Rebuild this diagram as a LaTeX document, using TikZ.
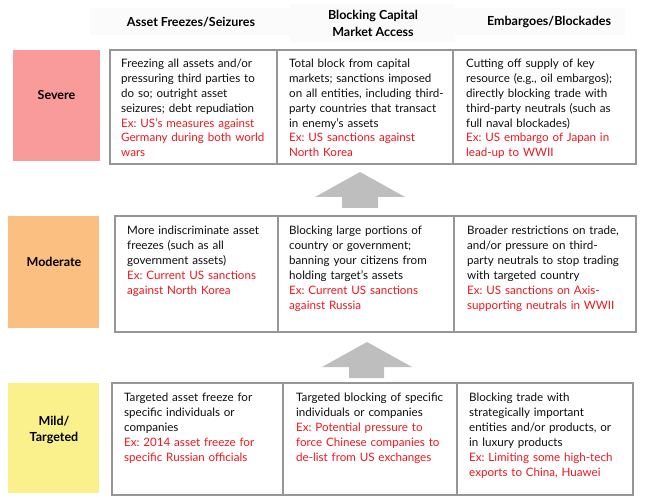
\documentclass[tikz,border=0pt]{standalone}
\usepackage{fontspec}
\setmainfont{Lato}
\frenchspacing
\definecolor{exred}{RGB}{240,22,30}
\definecolor{cellgray}{RGB}{150,150,150}
\definecolor{arrowgray}{RGB}{190,190,190}
\definecolor{sevcol}{RGB}{250,155,155}
\definecolor{modcol}{RGB}{252,191,130}
\definecolor{mildcol}{RGB}{250,240,140}
\definecolor{hdrbg}{RGB}{251,251,251}
\begin{document}
\begin{tikzpicture}[x=1pt,y=-1pt,
  cell/.style={draw=cellgray,line width=1.3pt},
  levelbox/.style={font=\fontsize{12.5}{15.5}\selectfont\bfseries,align=center},
  hdr/.style={font=\fontsize{12.5}{17}\selectfont\bfseries,align=center},
  ctext/.style={anchor=base west,inner sep=0pt,align=left,text width=170pt,
    font=\fontsize{11.6}{14.9}\selectfont\frenchspacing,text=black!95},
  blockarrow/.style={fill=arrowgray,draw=none}]
\useasboundingbox (0,0) rectangle (654,500);
% header backgrounds
\fill[hdrbg] (90,8) rectangle (290,35);
\fill[hdrbg] (290,4) rectangle (455,42);
\fill[hdrbg] (455,8) rectangle (625,35);
% headers
\node[hdr] (h1) at (191,22) {Asset Freezes/Seizures};
\node[hdr] (h2) at (373,23) {Blocking Capital\\Market Access};
\node[hdr] (h3) at (549,22) {Embargoes/Blockades};
% level boxes
\fill[sevcol] (13,50) rectangle (100,161);
\node[levelbox] (sev) at (56.5,95) {Severe};
\fill[modcol] (8,216) rectangle (99,328);
\node[levelbox] (mod) at (54,262) {Moderate};
\fill[mildcol] (8,383) rectangle (99,493);
\node[levelbox] (mild) at (54,430) {Mild/\\Targeted};
% row 1 cells
\draw[cell] (110,50) rectangle (277,164);
\draw[cell] (277,50) rectangle (453,164);
\draw[cell] (453,50) rectangle (636,164);
% row 2 cells
\draw[cell] (115,216) rectangle (278,332);
\draw[cell] (278,216) rectangle (454,332);
\draw[cell] (454,216) rectangle (636,332);
% row 3 cells
\draw[cell] (112,383) rectangle (283,495);
\draw[cell] (283,383) rectangle (457,495);
\draw[cell] (457,383) rectangle (633,495);
% arrows
\fill[blockarrow] (360,172) -- (405,197) -- (378,197) -- (378,208) -- (342,208) -- (342,197) -- (315,197) -- cycle;
\fill[blockarrow] (367,342) -- (412,367) -- (384,367) -- (384,378) -- (349,378) -- (349,367) -- (322,367) -- cycle;
% row 1 text
\node[ctext] (t11) at (121,67.5) {Freezing all assets and/or\\pressuring third parties to\\do so; outright asset\\seizures; debt repudiation\\\textcolor{exred}{Ex: US's measures against}\\\textcolor{exred}{Germany during both world}\\\textcolor{exred}{wars}};
\node[ctext] (t12) at (289,67.5) {Total block from capital\\markets; sanctions imposed\\on all entities, including third-\\party countries that transact\\in enemy's assets\\\textcolor{exred}{Ex: US sanctions against}\\\textcolor{exred}{North Korea}};
\node[ctext] (t13) at (466,67.5) {Cutting off supply of key\\resource (e.g., oil embargos);\\directly blocking trade with\\third-party neutrals (such as\\full naval blockades)\\\textcolor{exred}{Ex: US embargo of Japan in}\\\textcolor{exred}{lead-up to WWII}};
% row 2 text
\node[ctext] (t21) at (127,235) {More indiscriminate asset\\freezes (such as all\\government assets)\\\textcolor{exred}{Ex: Current US sanctions}\\\textcolor{exred}{against North Korea}};
\node[ctext] (t22) at (289,235) {Blocking large portions of\\country or government;\\banning your citizens from\\holding target's assets\\\textcolor{exred}{Ex: Current US sanctions}\\\textcolor{exred}{against Russia}};
\node[ctext] (t23) at (467,235) {Broader restrictions on trade,\\and/or pressure on third-\\party neutrals to stop trading\\with targeted country\\\textcolor{exred}{Ex: US sanctions on Axis-}\\\textcolor{exred}{supporting neutrals in WWII}};
% row 3 text
\node[ctext] (t31) at (124,401.5) {Targeted asset freeze for\\specific individuals or\\companies\\\textcolor{exred}{Ex: 2014 asset freeze for}\\\textcolor{exred}{specific Russian officials}};
\node[ctext] (t32) at (296,401.5) {Targeted blocking of specific\\individuals or companies\\\textcolor{exred}{Ex: Potential pressure to}\\\textcolor{exred}{force Chinese companies to}\\\textcolor{exred}{de-list from US exchanges}};
\node[ctext] (t33) at (469,401.5) {Blocking trade with\\strategically important\\entities and/or products, or\\in luxury products\\\textcolor{exred}{Ex: Limiting some high-tech}\\\textcolor{exred}{exports to China, Huawei}};
\end{tikzpicture}
\end{document}
